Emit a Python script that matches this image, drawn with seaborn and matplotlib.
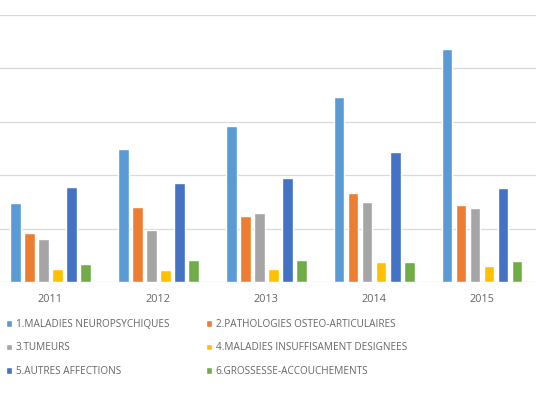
import pandas as pd
import matplotlib
matplotlib.use("Agg")
import matplotlib.pyplot as plt
import seaborn as sns

# ================= DATA =================
YEARS = ["2011", "2012", "2013", "2014", "2015"]
SERIES = [
    "1.MALADIES NEUROPSYCHIQUES",
    "2.PATHOLOGIES OSTEO-ARTICULAIRES",
    "3.TUMEURS",
    "4.MALADIES INSUFFISAMENT DESIGNEES",
    "5.AUTRES AFFECTIONS",
    "6.GROSSESSE-ACCOUCHEMENTS",
]
NEURO = [1.48, 2.49, 2.92, 3.46, 4.37]
OSTEO = [0.92, 1.40, 1.23, 1.66, 1.44]
TUMEURS = [0.80, 0.97, 1.29, 1.50, 1.38]
INSUFF = [0.25, 0.22, 0.24, 0.37, 0.30]
AUTRES = [1.78, 1.85, 1.94, 2.43, 1.76]
GROSSESSE = [0.34, 0.41, 0.41, 0.37, 0.39]
COLORS = ["#5B9BD5", "#ED7D31", "#A5A5A5", "#FFC000", "#4472C4", "#70AD47"]

values = [NEURO, OSTEO, TUMEURS, INSUFF, AUTRES, GROSSESSE]
rows = []
for name, vals in zip(SERIES, values):
    for year, v in zip(YEARS, vals):
        rows.append({"year": year, "series": name, "value": v})
df = pd.DataFrame(rows)

# ================= PLOT =================
sns.set_style("white")
plt.rcParams["font.family"] = ["Open Sans", "DejaVu Sans"]

fig = plt.figure(figsize=(5.49, 4.03), dpi=100)
ax = fig.add_axes([-3.5 / 549, 1 - 282 / 403, 539.5 / 549, (282 - 15) / 403])

sns.barplot(data=df, x="year", y="value", hue="series", hue_order=SERIES,
            palette=COLORS, width=0.78, gap=0.24, saturation=1,
            ax=ax, legend=True)

ax.set_ylim(0, 5)
ax.set_yticks([0, 1, 2, 3, 4, 5])
ax.set_yticklabels([])
ax.tick_params(axis="y", length=0)
ax.tick_params(axis="x", length=0, labelsize=7.8, labelcolor="#666666", pad=9)
ax.yaxis.grid(True, color="#D9D9D9", linewidth=0.9)
ax.set_axisbelow(True)
for s in ax.spines.values():
    s.set_visible(False)
ax.set_xlabel("")
ax.set_ylabel("")

handles, labels = ax.get_legend_handles_labels()
ax.get_legend().remove()
order = [0, 2, 4, 1, 3, 5]
fig.legend([handles[i] for i in order], [labels[i] for i in order],
           ncol=2, loc="upper left", bbox_to_anchor=(0.0, 1 - 313 / 403),
           frameon=False, fontsize=7.2, labelcolor="#666666",
           handlelength=0.6, handleheight=0.6, handletextpad=0.4,
           columnspacing=3.6, labelspacing=1.25, borderaxespad=0.2)

fig.savefig("out.png", dpi=100)
